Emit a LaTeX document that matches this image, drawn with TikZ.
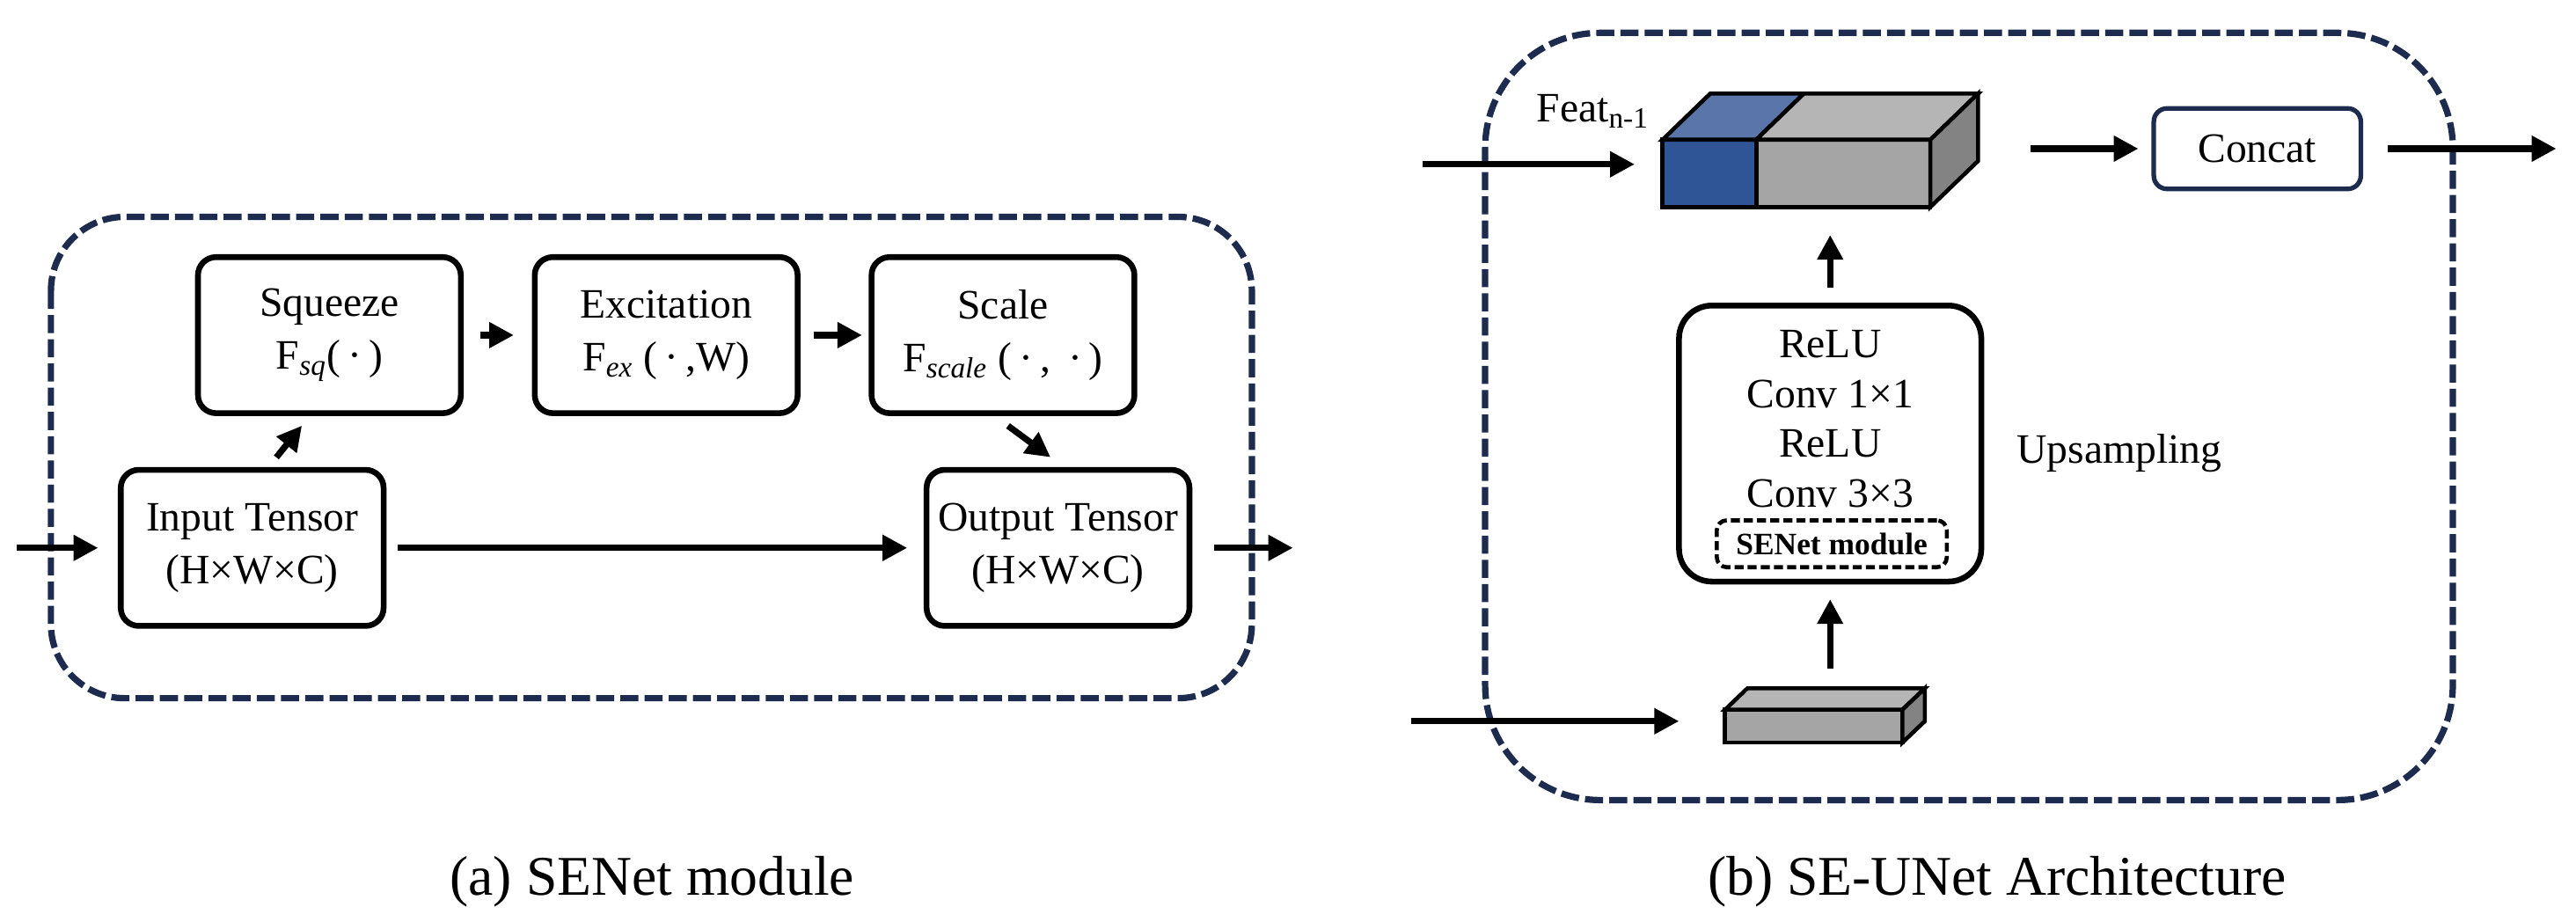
\documentclass[tikz,border=0pt]{standalone}
\usepackage{fontspec}
\setmainfont{Liberation Serif}
\usepackage{tikz}
\usetikzlibrary{calc,positioning,arrows.meta}
\definecolor{navy}{HTML}{1C2B4E}
\definecolor{blueF}{HTML}{2F5597}
\definecolor{blueT}{HTML}{5A75A9}
\definecolor{grayF}{HTML}{A5A5A5}
\definecolor{grayT}{HTML}{B5B5B5}
\definecolor{grayS}{HTML}{838383}
\newcommand{\boxfont}{\fontsize{14.5}{18.2}\selectfont}
\newcommand{\capfont}{\fontsize{19.4}{23}\selectfont}
\tikzset{
node distance=41mm, % centre distance of the three SENet steps
block/.style={draw, line width=2pt, rounded corners=2.2mm, minimum width=32mm, minimum height=19mm, align=center, inner sep=0pt, font=\boxfont},
link/.style={-{Triangle[length=3mm,width=3mm]}, line width=2.2pt},
dashframe/.style={draw=navy, line width=2.2pt, dash pattern=on 2.2mm off 0.75mm},
face/.style={draw, line width=1.4pt, inner sep=0pt, outer sep=0pt},
}

\begin{document}
\begin{tikzpicture}[x=0.2mm,y=-0.2mm,on grid,auto]
    \useasboundingbox (0,0) rectangle (1568,561);
    % (a) SENet module
    \draw[dashframe, rounded corners=9mm] (31,132) rectangle (762,425);
    \node[block] (input) at (153.5,333.5) {Input Tensor\\(H×W×C)};
    \node[block] (squeeze) [above right=25.9mm and 9.4mm of input] {Squeeze\\F\textsubscript{\itshape sq}(\,·\,)};
    \node[block] (excitation) [right=of squeeze] {Excitation\\F\textsubscript{\itshape ex} (\,·\,,W)};
    \node[block] (scale) [right=of excitation] {Scale\\F\textsubscript{\itshape scale} (\,·\,, \,·\,)};
    \node[block] (output) [right=98.1mm of input] {Output Tensor\\(H×W×C)};
    \coordinate (inA) at (10,333.5);
    \coordinate (outA) at (787,333.5);
    \path[link]
    (inA) edge[shorten >=2.4mm] (input)
    (input) edge[shorten <=1.4mm, shorten >=2mm] (output)
    (output) edge[shorten <=2.6mm] (outA)
    (squeeze) edge[shorten <=2mm, shorten >=2.2mm] (excitation)
    (excitation) edge[shorten <=1.6mm, shorten >=0.8mm] (scale)
    ([xshift=2mm]input.north) edge[shorten <=1.5mm, shorten >=1.5mm] ([xshift=-2.4mm]squeeze.south)
    ([xshift=-1mm]scale.south) edge[shorten <=2mm, shorten >=2mm] ([xshift=0.7mm]output.north);
    \node[font=\capfont, anchor=base] (capA) at (397,545) {(a) SENet module};

    % (b) SE-UNet Architecture
    \draw[dashframe, rounded corners=14mm] (904,20) rectangle (1493,487);
    \node[face, fill=blueF, minimum width=11.4mm, minimum height=8.2mm] (featB) at (1040.5,105.5) {};
    \node[face, fill=grayF, minimum width=21.2mm, minimum height=8.2mm, anchor=west] (featG) at (featB.east) {};
    \filldraw[fill=blueT, line width=1.4pt] (featB.north west) -- ++(29,-28) -- ($(featB.north east)+(29,-28)$) -- (featB.north east) -- cycle;
    \filldraw[fill=grayT, line width=1.4pt] (featG.north west) -- ++(29,-28) -- ($(featG.north east)+(29,-28)$) -- (featG.north east) -- cycle;
    \filldraw[fill=grayS, line width=1.4pt] (featG.north east) -- ++(29,-28) -- ++(0,41) -- (featG.south east) -- cycle;
    \node[font=\boxfont, anchor=base west, inner sep=0pt] (featLbl) at (935,74) {Feat\textsubscript{n-1}};
    \node[draw=navy, line width=1.6pt, rounded corners=1.6mm, minimum width=25.2mm, minimum height=9.8mm, font=\boxfont] (concat) at (1374,90.5) {Concat};
    \node[block, rounded corners=4mm, minimum width=36.8mm, minimum height=33.6mm] (up) at (1114,270) {};
    \node[align=center, font=\fontsize{14.5}{17.2}\selectfont] (upLines) at (1114,255) {ReLU\\Conv 1×1\\ReLU\\Conv 3×3};
    \node[draw, line width=1.4pt, dash pattern=on 1.1mm off 0.5mm, rounded corners=1.2mm, minimum width=28mm, minimum height=5.7mm, inner sep=0pt, font=\fontsize{10.8}{12}\selectfont\bfseries] (senet) at (1115,331) {SENet module};
    \node[font=\boxfont] (upLbl) at (1290,276) {Upsampling};
    \node[face, fill=grayF, minimum width=21.6mm, minimum height=4mm] (low) at (1104,442) {};
    \filldraw[fill=grayT, line width=1.4pt] (low.north west) -- ++(13.6,-13) -- ($(low.north east)+(13.6,-13)$) -- (low.north east) -- cycle;
    \filldraw[fill=grayS, line width=1.4pt] (low.north east) -- ++(13.6,-13) -- ++(0,20) -- (low.south east) -- cycle;
    \coordinate (featIn) at (866,100);
    \coordinate (lowIn) at (859,439);
    \coordinate (outB) at (1556,90.5);
    \path[link]
    (featIn) edge[shorten >=3.4mm] (featIn -| featB.west)
    (featG.east |- concat.west) edge[shorten <=12.2mm, shorten >=1.6mm] (concat.west)
    (concat) edge[shorten <=3mm] (outB)
    (up.north) edge[shorten <=1.8mm, shorten >=3.4mm] (up.north |- featG.south)
    (up.south |- low.north) edge[shorten <=5mm, shorten >=1.8mm] (up.south)
    (lowIn) edge[shorten >=5.6mm] (lowIn -| low.west);
    \node[font=\capfont, anchor=base] (capB) at (1215.5,545) {(b) SE-UNet Architecture};
\end{tikzpicture}
\end{document}
